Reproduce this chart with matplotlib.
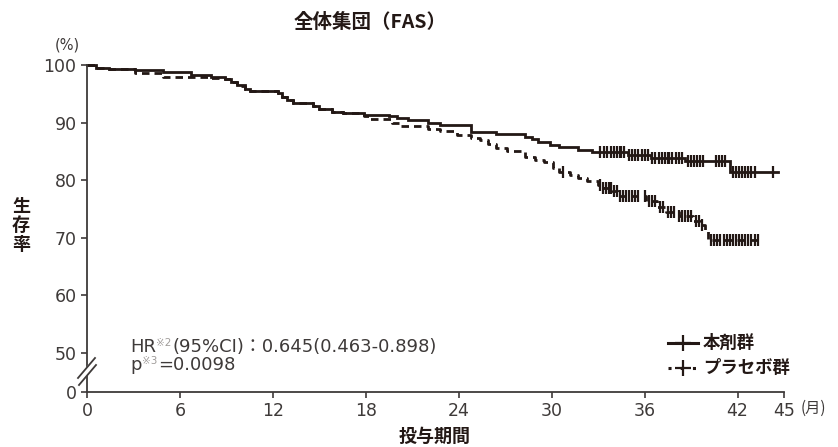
import numpy as np
import matplotlib
matplotlib.use("Agg")
import matplotlib.pyplot as plt

# ---------------- data ----------------
title = "全体集団（FAS）"
arm_labels = ["本剤群", "プラセボ群"]

# 本剤群: step times (months) and survival (%) after each step
drug_t = [0, 0.6, 1.4, 3.1, 4.9, 6.7, 8.0, 8.9, 9.3, 9.7, 10.2, 10.5, 12.3, 12.6, 12.9,
          13.3, 14.6, 15.0, 15.8, 16.5, 17.9, 19.5, 20.0, 20.7, 22.0, 22.8, 24.8, 26.4,
          28.3, 28.7, 29.1, 29.9, 30.5, 31.7, 32.6, 34.9, 36.4, 38.6, 41.5]
drug_s = [100, 99.5, 99.3, 99.1, 98.8, 98.3, 97.9, 97.6, 97.0, 96.5, 95.9, 95.5, 95.1, 94.4, 93.9,
          93.4, 92.8, 92.3, 91.9, 91.7, 91.3, 91.1, 90.8, 90.4, 89.9, 89.5, 88.4, 88.0,
          87.5, 87.1, 86.6, 86.2, 85.8, 85.3, 84.9, 84.4, 83.8, 83.3, 81.4]
drug_end = 44.6
drug_cens = [33.1, 33.4, 33.6, 33.8, 34.0, 34.2, 34.4, 34.5, 34.7, 35.0, 35.2, 35.4, 35.6,
             35.8, 36.0, 36.2, 36.5, 36.7, 36.9, 37.1, 37.3, 37.5, 37.6, 37.8, 38.0, 38.2,
             38.4, 38.8, 39.0, 39.2, 39.4, 39.6, 39.8, 40.6, 40.8, 41.0, 41.2, 41.7, 41.9,
             42.1, 42.3, 42.5, 42.7, 42.9, 43.1, 44.3]

# プラセボ群
plac_t = [0, 0.6, 1.4, 3.1, 4.9, 8.0, 8.9, 9.3, 9.7, 10.2, 10.5, 12.3, 12.6, 12.9, 13.3,
          14.6, 15.0, 15.8, 16.5, 17.9, 18.3, 19.7, 20.3, 22.0, 22.8, 23.9, 24.8, 25.4,
          25.9, 26.4, 27.1, 28.3, 28.9, 29.5, 30.1, 30.5, 31.2, 31.7, 32.3, 33.0, 33.3,
          33.9, 34.3, 36.1, 36.8, 37.4, 38.2, 39.1, 39.6, 39.9, 40.1]
plac_s = [100, 99.5, 99.3, 98.6, 97.9, 97.7, 97.5, 97.0, 96.4, 95.9, 95.5, 95.1, 94.4, 93.9, 93.4,
          92.8, 92.3, 91.9, 91.6, 91.2, 90.6, 89.9, 89.4, 88.9, 88.6, 87.9, 87.3, 87.0,
          86.3, 85.6, 85.0, 84.1, 83.5, 83.1, 82.1, 81.5, 80.9, 80.4, 79.8, 79.2, 78.6,
          78.1, 77.3, 76.4, 75.3, 74.5, 73.8, 72.9, 72.2, 71.4, 69.7]
plac_end = 43.5
plac_cens = [30.7, 33.1, 33.3, 33.5, 33.7, 33.8, 34.0, 34.2, 34.4, 34.6, 34.8, 35.0, 35.2,
             35.4, 35.6, 36.0, 36.3, 36.5, 36.7, 37.0, 37.2, 37.5, 37.7, 37.9, 38.2, 38.4,
             38.6, 38.8, 39.0, 39.3, 39.5, 39.7, 40.3, 40.5, 40.7, 40.9, 41.1, 41.3, 41.5,
             41.7, 41.9, 42.1, 42.3, 42.5, 42.7, 42.9, 43.1, 43.3]

x_ticks = [0, 6, 12, 18, 24, 30, 36, 42, 45]
y_ticks = [50, 60, 70, 80, 90, 100]
y_zero_pos = 43.24  # where the broken axis places "0"

hr_text = ["HR", "※2", "(95%CI)：0.645(0.463-0.898)"]
p_text = ["p", "※3", "=0.0098"]

# ---------------- style ----------------
LINE = "#231815"
TXT = "#3e3a39"
CJK = ["Noto Sans CJK JP", "DejaVu Sans"]
LAT = ["DejaVu Sans", "Noto Sans CJK JP"]
plt.rcParams["font.family"] = CJK

W, H = 838, 447
fig = plt.figure(figsize=(W / 100, H / 100), dpi=100)
ax_l, ax_r, ax_t, ax_b = 87, 784, 65, 392
ax = fig.add_axes([ax_l / W, 1 - ax_b / H, (ax_r - ax_l) / W, (ax_b - ax_t) / H])
ax.set_xlim(0, 45)
ax.set_ylim(y_zero_pos, 100)


def km(ax, t, s, end, cens, dashes=None):
    tt = list(t) + [end]
    ss = list(s) + [s[-1]]
    ln, = ax.step(tt, ss, where="post", color=LINE, lw=2.0, clip_on=False,
                  solid_joinstyle="miter")
    if dashes is not None:
        ln.set_dashes(dashes)
    tarr = np.asarray(t)
    sarr = np.asarray(s)
    c = np.asarray(cens)
    cy = sarr[np.searchsorted(tarr, c, side="right") - 1]
    ax.plot(c, cy, ls="none", marker="|", ms=9, mew=1.6, color=LINE, clip_on=False)


km(ax, drug_t, drug_s, drug_end, drug_cens)
km(ax, plac_t, plac_s, plac_end, plac_cens, dashes=(2.7, 1.8))

# axes styling
for sp in ["top", "right"]:
    ax.spines[sp].set_visible(False)
for sp in ["left", "bottom"]:
    ax.spines[sp].set_color(TXT)
    ax.spines[sp].set_linewidth(1.3)
ax.set_xticks(x_ticks)
ax.set_xticklabels([str(v) for v in x_ticks])
ax.set_yticks([y_zero_pos] + y_ticks)
ax.set_yticklabels(["0"] + [str(v) for v in y_ticks])
ax.tick_params(axis="both", direction="out", length=4, width=1.2, color=TXT,
               labelcolor=TXT, labelsize=12.5, pad=3.5)
for lab in ax.get_xticklabels() + ax.get_yticklabels():
    lab.set_family(LAT)


# axis break marks
def px2data(px, py):
    return ((px - ax_l) / (ax_r - ax_l) * 45,
            100 - (py - ax_t) / (ax_b - ax_t) * (100 - y_zero_pos))


p1a, p1b = px2data(78, 378), px2data(95, 358)
p2a, p2b = px2data(79, 385), px2data(96, 365)
gap = [px2data(84, 371), px2data(90, 364), px2data(90, 371), px2data(84, 378)]
ax.fill([g[0] for g in gap], [g[1] for g in gap], color="white", clip_on=False, zorder=5)
for a, b in [(p1a, p1b), (p2a, p2b)]:
    ax.plot([a[0], b[0]], [a[1], b[1]], color=TXT, lw=1.3, clip_on=False, zorder=6)

# titles and labels
fig.text(370 / W, 1 - 22 / H, title, ha="center", va="center", fontsize=14,
         fontweight="bold", color="#231815", family=CJK)
fig.text(67 / W, 1 - 45 / H, "(%)", ha="center", va="center", fontsize=10.5,
         color=TXT, family=LAT)
fig.text(813 / W, 1 - 408 / H, "(月)", ha="center", va="center", fontsize=11,
         color=TXT, family=CJK)
fig.text(21 / W, 1 - 225 / H, "生\n存\n率", ha="center", va="center", fontsize=13,
         fontweight="bold", color="#231815", linespacing=1.0, family=CJK)
fig.text(435 / W, 1 - 436 / H, "投与期間", ha="center", va="center", fontsize=13,
         fontweight="bold", color="#231815", family=CJK)


# legend (drawn by hand)
def axfrac(px, py):
    return (px - ax_l) / (ax_r - ax_l), (ax_b - py) / (ax_b - ax_t)


for i, (lab, style) in enumerate(zip(arm_labels, ["solid", "dash"])):
    py = 343 + 25 * i
    xa, ya = axfrac(668, py)
    xb, _ = axfrac(698, py)
    xm, _ = axfrac(683, py)
    if style == "solid":
        ax.plot([xa, xb], [ya, ya], transform=ax.transAxes, color=LINE, lw=2.2, clip_on=False)
    else:
        ln, = ax.plot([xa, xb], [ya, ya], transform=ax.transAxes, color=LINE, lw=2.2,
                      clip_on=False)
        ln.set_dashes((1.0, 3.0))
    ax.plot([xm], [ya], transform=ax.transAxes, marker="+", ms=11, mew=1.6, color=LINE,
            clip_on=False)
    xt, _ = axfrac(703, py)
    ax.text(xt, ya, lab, transform=ax.transAxes, ha="left", va="center", fontsize=12.5,
            fontweight="bold", color="#231815", family=CJK)

# HR / p text, built from runs
fig.canvas.draw()
renderer = fig.canvas.get_renderer()


def runs(x_px, y_px, parts):
    x = x_px
    for j, part in enumerate(parts):
        small = (j == 1)
        t = fig.text(x / W, 1 - (y_px - (4 if small else 0)) / H, part,
                     ha="left", va="center", fontsize=7.5 if small else 13,
                     color="#a09c9a" if small else TXT, family=LAT)
        bb = t.get_window_extent(renderer=renderer)
        x += bb.width + (1 if small else 0)


runs(130, 347, hr_text)
runs(130, 365, p_text)

fig.savefig("out.png", dpi=100)
